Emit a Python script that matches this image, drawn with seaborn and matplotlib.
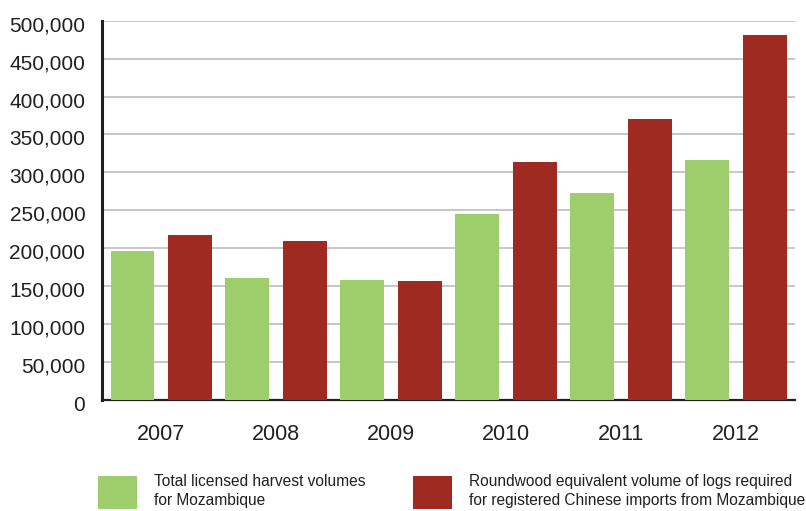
"""Licensed harvest volumes vs. roundwood equivalent of Chinese imports, Mozambique."""

import pandas as pd
import matplotlib.pyplot as plt
import matplotlib.transforms as mtransforms
import seaborn as sns
from matplotlib.patches import Patch

years = ['2007', '2008', '2009', '2010', '2011', '2012']
licensed_harvest = [197000, 161000, 158000, 245000, 273000, 317000]
roundwood_equiv = [218000, 210000, 157000, 314000, 371000, 481000]

series_names = ['Total licensed harvest volumes\nfor Mozambique',
                'Roundwood equivalent volume of logs required\nfor registered Chinese imports from Mozambique']
colors = ['#9ECD6C', '#9E2A21']
y_ticks = list(range(0, 500001, 50000))

TEXT = '#231F20'


def build_frame():
    df = pd.DataFrame({'year': years,
                       series_names[0]: licensed_harvest,
                       series_names[1]: roundwood_equiv})
    return df.melt(id_vars='year', var_name='series', value_name='volume')


def add_legend_entry(fig, color, label, x_px, y_px):
    # one entry per legend so each patch sits at its own spot
    leg = fig.legend([Patch(facecolor=color, edgecolor='none')], [label],
                     loc='upper left', bbox_to_anchor=(x_px / 806, 1 - y_px / 511),
                     frameon=False, prop={'family': 'Liberation Sans', 'size': 11.2},
                     handlelength=2.5, handleheight=2.9, handletextpad=1.1,
                     borderaxespad=0, borderpad=0, labelspacing=0,
                     labelcolor=TEXT)
    for txt in leg.get_texts():
        txt.set_linespacing(1.35)
    return leg


def main():
    sns.set_style('white')
    plt.rcParams['font.family'] = ['Liberation Sans', 'DejaVu Sans']

    fig = plt.figure(figsize=(8.06, 5.11), dpi=100)
    ax = fig.add_axes([0.1266, 0.2172, 0.8598, 0.7423])

    long_df = build_frame()
    sns.barplot(data=long_df, x='year', y='volume', hue='series',
                palette=colors, width=1.0, gap=0.235, saturation=1,
                linewidth=0, legend=False, ax=ax, zorder=3)

    ax.set_xlim(-0.515, 5.515)
    ax.set_ylim(0, 500000)
    ax.set_yticks(y_ticks)
    ax.set_yticklabels([f'{v:,}' for v in y_ticks])
    ax.yaxis.grid(True, color='#B8B8B8', linewidth=1.1, zorder=0)
    ax.set_axisbelow(True)

    for side in ['top', 'right']:
        ax.spines[side].set_visible(False)
    ax.spines['left'].set_color(TEXT)
    ax.spines['left'].set_linewidth(2.2)
    ax.spines['bottom'].set_color(TEXT)
    ax.spines['bottom'].set_linewidth(1.6)

    ax.set_xlabel('')
    ax.set_ylabel('')
    ax.tick_params(axis='y', length=0, pad=12, labelsize=15, labelcolor=TEXT)
    ax.tick_params(axis='x', length=0, pad=17, labelsize=15.5, labelcolor=TEXT)

    # tick labels in the original sit a few pixels below their gridline
    shift = mtransforms.ScaledTranslation(0, -3 / 100, fig.dpi_scale_trans)
    for lbl in ax.get_yticklabels():
        lbl.set_transform(lbl.get_transform() + shift)

    add_legend_entry(fig, colors[0], series_names[0], 98, 474)
    add_legend_entry(fig, colors[1], series_names[1], 413, 474)

    fig.savefig('out.png', dpi=100)
    plt.close(fig)


if __name__ == '__main__':
    main()
